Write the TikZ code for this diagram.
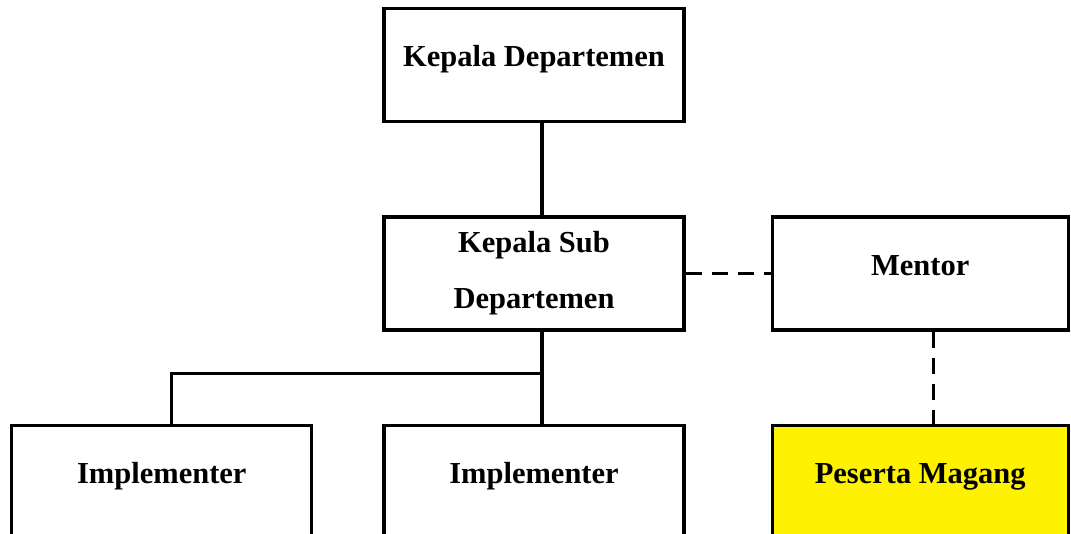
\documentclass[tikz,border=0pt]{standalone}
\usepackage{fontspec}
\setmainfont{Liberation Serif}
\begin{document}
\begin{tikzpicture}[
   x=1pt,y=-1pt,
   font=\fontsize{30.5}{56}\selectfont\bfseries,
   every matrix/.style={ampersand replacement=\&,column sep=85pt,row sep=92pt},
   unit/.style={draw,line width=3.2pt,minimum width=300pt,minimum height=113pt,inner sep=0pt,align=center},
   lift/.style={text height=21pt,text depth=18pt},
   side/.style={unit,lift,minimum width=296pt},
   intern/.style={side,fill=yellow},
   link/.style={line width=3.2pt},
   guide/.style={link,dash pattern=on 16pt off 10pt}]
\clip (0,0) rectangle (1071,533);
\matrix (org) at (540,273.5) {
\&[-16pt]\node[unit,lift] (kadep) {Kepala Departemen};\&\\
\&[-16pt]\node[unit] (kasub) {Kepala Sub\\Departemen};\&\node[side] (mentor) {Mentor};\\
\node[unit,lift] (impl1) {Implementer};\&[-16pt]\node[unit,lift] (impl2) {Implementer};\&\node[intern] (magang) {Peserta Magang};\\
};
\coordinate (branch) at ([xshift=8pt,yshift=-42pt]kasub.south);
\draw[link]  ([xshift=8pt]kadep.south) -- ([xshift=8pt]kasub.north);
\draw[link]  ([xshift=8pt]kasub.south) -- (branch) -- (branch |- impl2.north);
\draw[link]  ([xshift=10pt]impl1.north) |- (branch);
\draw[guide] (kasub) -- (mentor);
\draw[guide] ([xshift=13pt]mentor.south) -- ([xshift=13pt]magang.north);
\end{tikzpicture}
\end{document}
